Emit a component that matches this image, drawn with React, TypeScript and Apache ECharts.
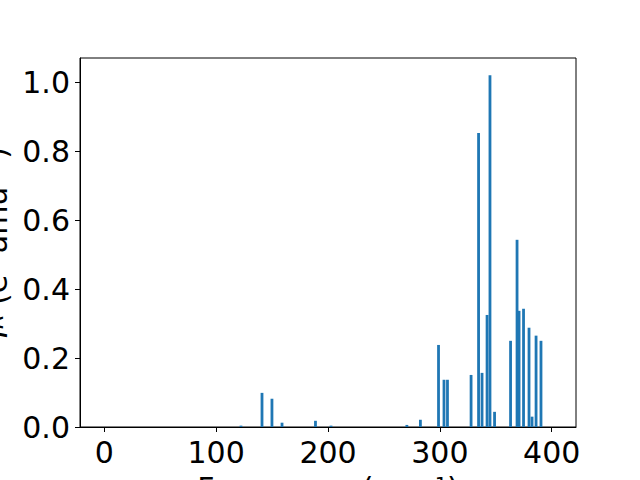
import React, { useEffect, useRef } from "react";
import * as echarts from "echarts";

const frequencies = [
  122.2, 141.0, 149.9, 158.9, 188.8, 202.7, 270.5, 282.6, 298.8, 303.7, 306.8,
  327.9, 334.6, 337.7, 342.2, 344.8, 348.9, 363.2, 369.0, 370.8, 374.8, 379.7,
  382.4, 386.0, 390.4,
];
const intensities = [
  0.004, 0.099, 0.082, 0.0125, 0.018, 0.004, 0.006, 0.021, 0.238, 0.137, 0.137,
  0.151, 0.853, 0.157, 0.325, 1.02, 0.044, 0.25, 0.543, 0.337, 0.343, 0.288,
  0.03, 0.265, 0.25,
];
const xTicks = [0, 100, 200, 300, 400];
const yTicks = [0, 0.2, 0.4, 0.6, 0.8, 1.0];

const FONT = "DejaVu Sans";

export default function App() {
  const ref = useRef<HTMLDivElement>(null);
  useEffect(() => {
    if (!ref.current) return;
    const chart = echarts.init(ref.current, undefined, { renderer: "svg" });
    const data = frequencies.map((f, i) => [f, intensities[i]]);
    chart.setOption({
      animation: false,
      backgroundColor: "#ffffff",
      grid: {
        left: 80,
        right: 64,
        top: 58,
        bottom: 53,
        containLabel: false,
        outerBoundsMode: "none",
        show: true,
        borderColor: "#000000",
        borderWidth: 1,
        backgroundColor: "transparent",
      },
      xAxis: {
        type: "value",
        min: -21.7,
        max: 421.7,
        name: "Frequency (cm⁻¹)",
        nameLocation: "middle",
        nameGap: 46,
        nameTextStyle: { fontFamily: FONT, fontSize: 30, color: "#000" },
        axisLine: { show: true, onZero: false, lineStyle: { color: "#000", width: 1 } },
        axisTick: {
          show: true,
          length: 5,
          customValues: xTicks,
          lineStyle: { color: "#000", width: 1 },
        },
        axisLabel: {
          customValues: xTicks,
          margin: 10,
          fontFamily: FONT,
          fontSize: 30,
          color: "#000",
          formatter: (v: number) => String(v),
        },
        splitLine: { show: false },
      },
      yAxis: {
        type: "value",
        min: 0,
        max: 1.0704,
        name: "{i|I}{s|R} (e² amu⁻¹)",
        nameLocation: "middle",
        nameGap: 62,
        nameTextStyle: {
          fontFamily: FONT,
          fontSize: 30,
          color: "#000",
          rich: {
            i: { fontFamily: FONT, fontSize: 30, fontStyle: "italic", color: "#000" },
            s: { fontFamily: FONT, fontSize: 21, fontStyle: "italic", color: "#000" },
          },
        },
        axisLine: { show: true, onZero: false, lineStyle: { color: "#000", width: 1 } },
        axisTick: {
          show: true,
          length: 5,
          customValues: yTicks,
          lineStyle: { color: "#000", width: 1 },
        },
        axisLabel: {
          customValues: yTicks,
          margin: 10,
          fontFamily: FONT,
          fontSize: 30,
          color: "#000",
          formatter: (v: number) => v.toFixed(1),
        },
        splitLine: { show: false },
      },
      series: [
        {
          type: "bar",
          data,
          barWidth: 2.8,
          itemStyle: { color: "#1f77b4" },
        },
      ],
    });
    return () => chart.dispose();
  }, []);
  return (
    <div
      ref={ref}
      style={{ position: "fixed", left: 0, top: 0, width: 640, height: 480 }}
    />
  );
}
